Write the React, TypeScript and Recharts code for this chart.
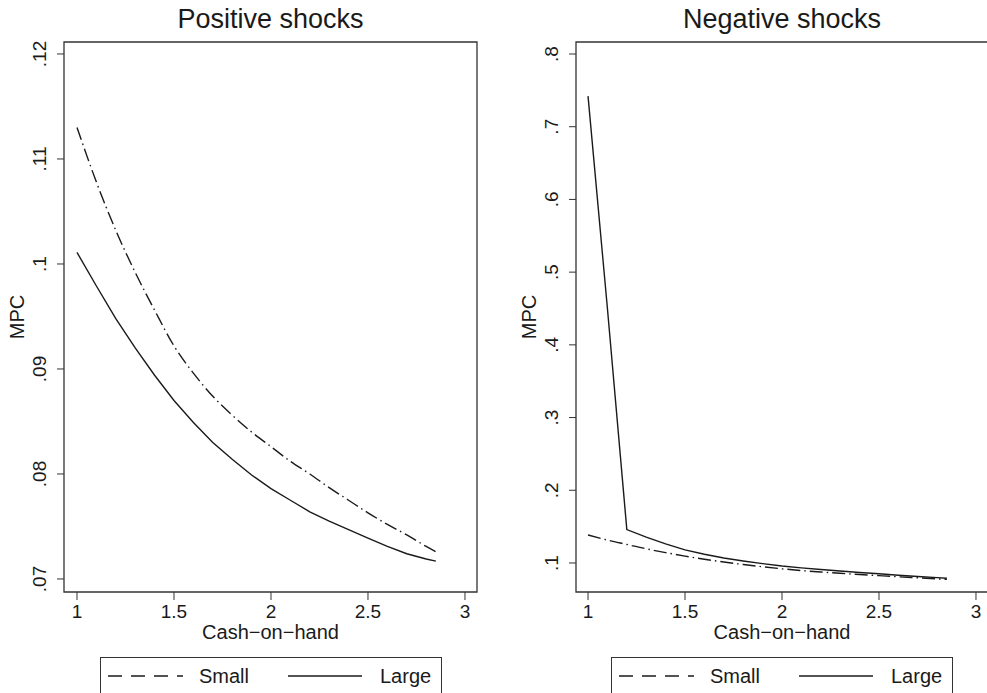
import { LineChart, Line, XAxis, YAxis, ReferenceArea, Legend } from 'recharts';

// cash-on-hand grid + MPC values
const xTicks = [1, 1.5, 2, 2.5, 3];

const posX = [1.0, 1.1, 1.2, 1.3, 1.4, 1.5, 1.6, 1.7, 1.8, 1.9, 2.0, 2.1, 2.2, 2.3, 2.4, 2.5, 2.6, 2.7, 2.8, 2.85];
const posSmall = [0.113, 0.1078, 0.1032, 0.0992, 0.0956, 0.0922, 0.0896, 0.0874, 0.0856, 0.084, 0.0826, 0.0812, 0.08, 0.0787, 0.0775, 0.0763, 0.0752, 0.0742, 0.0731, 0.0726];
const posLarge = [0.1011, 0.0979, 0.0948, 0.092, 0.0894, 0.087, 0.0849, 0.083, 0.0814, 0.0799, 0.0786, 0.0775, 0.0764, 0.0755, 0.0747, 0.0739, 0.0731, 0.0724, 0.0719, 0.0717];
const posTicks = [0.07, 0.08, 0.09, 0.1, 0.11, 0.12];

const negX = [1.0, 1.1, 1.2, 1.3, 1.4, 1.5, 1.6, 1.7, 1.8, 1.9, 2.0, 2.1, 2.2, 2.3, 2.4, 2.5, 2.6, 2.7, 2.8, 2.85];
const negSmall = [0.1385, 0.1315, 0.1255, 0.1195, 0.1143, 0.1095, 0.1052, 0.1013, 0.098, 0.0948, 0.092, 0.0896, 0.0876, 0.0858, 0.0842, 0.0826, 0.081, 0.0796, 0.0782, 0.0775];
const negLarge = [0.742, 0.45, 0.146, 0.1355, 0.1262, 0.118, 0.112, 0.1068, 0.1028, 0.0992, 0.0958, 0.0933, 0.091, 0.089, 0.087, 0.0852, 0.0832, 0.0815, 0.0798, 0.079];
const negTicks = [0.1, 0.2, 0.3, 0.4, 0.5, 0.6, 0.7, 0.8];

const INK = '#1a1a1a';

const fmtPos = (v: number) => v.toFixed(2).replace(/^0/, '').replace(/0$/, '');
const fmtNeg = (v: number) => v.toFixed(1).replace(/^0/, '');

function YTick({ x, y, payload, fmt }: any) {
  return (
    <text x={x} y={y} transform={`rotate(-90 ${x} ${y})`} textAnchor="middle" fontSize={19} fill={INK}>
      {fmt(payload.value)}
    </text>
  );
}

function MpcLabel({ viewBox }: any) {
  const x = viewBox.x + 10;
  const y = viewBox.y + viewBox.height / 2;
  return (
    <text x={x} y={y} transform={`rotate(-90 ${x} ${y})`} textAnchor="middle" fontSize={20} fill={INK}>
      MPC
    </text>
  );
}

function LegendBox() {
  return (
    <div style={{ width: 342, height: 50, border: '1px solid #333', boxSizing: 'border-box', position: 'relative', background: '#fff' }}>
      <svg width={340} height={48} style={{ position: 'absolute', left: 0, top: 0 }}>
        <line x1={7} x2={82} y1={18} y2={18} stroke={INK} strokeWidth={1.4} strokeDasharray="14 9" />
        <text x={98} y={25} fontSize={20} fill={INK}>Small</text>
        <line x1={187} x2={261} y1={18} y2={18} stroke={INK} strokeWidth={1.4} />
        <text x={279} y={25} fontSize={20} fill={INK}>Large</text>
      </svg>
    </div>
  );
}

interface PanelProps {
  title: string;
  left: number;
  width: number;
  margin: { top: number; right: number; bottom: number; left: number };
  xs: number[];
  small: number[];
  large: number[];
  xDomain: [number, number];
  yDomain: [number, number];
  yTicks: number[];
  fmt: (v: number) => string;
  legendLeft: number;
}

function Panel({ title, left, width, margin, xs, small, large, xDomain, yDomain, yTicks, fmt, legendLeft }: PanelProps) {
  const data = xs.map((x, i) => ({ x, small: small[i], large: large[i] }));
  const plotLeft = margin.left + 50;
  const plotRight = width - margin.right;
  return (
    <div style={{ position: 'absolute', left, top: 0, width, height: 693 }}>
      <div style={{ position: 'absolute', left: plotLeft, width: plotRight - plotLeft, top: 6, textAlign: 'center', fontSize: 27, lineHeight: '27px', color: INK }}>
        {title}
      </div>
      <LineChart width={width} height={693} data={data} margin={margin}>
        <XAxis
          type="number"
          dataKey="x"
          domain={xDomain}
          ticks={xTicks}
          allowDataOverflow
          height={50}
          axisLine={false}
          tickSize={8}
          tickMargin={5}
          tickLine={{ stroke: '#333' }}
          tick={{ fontSize: 19, fill: INK }}
          label={{ value: 'Cash−on−hand', position: 'insideBottom', offset: 3, fontSize: 20, fill: INK }}
        />
        <YAxis
          type="number"
          domain={yDomain}
          ticks={yTicks}
          allowDataOverflow
          width={50}
          axisLine={false}
          tickSize={7}
          tickMargin={11}
          tickLine={{ stroke: '#333' }}
          tick={(p: any) => <YTick {...p} fmt={fmt} />}
          label={(p: any) => <MpcLabel {...p} />}
        />
        <ReferenceArea x1={xDomain[0]} x2={xDomain[1]} y1={yDomain[0]} y2={yDomain[1]} fill="none" fillOpacity={0} stroke="#333" strokeWidth={1.3} />
        <Line type="monotone" dataKey="small" name="Small" stroke={INK} strokeWidth={1.4} strokeDasharray="13 4 1.5 4" dot={false} isAnimationActive={false} />
        <Line type="linear" dataKey="large" name="Large" stroke={INK} strokeWidth={1.4} dot={false} isAnimationActive={false} />
        <Legend
          verticalAlign="middle"
          align="center"
          layout="horizontal"
          wrapperStyle={{ left: legendLeft, top: 657, width: 342, height: 50 }}
          content={() => <LegendBox />}
        />
      </LineChart>
    </div>
  );
}

export default function App() {
  return (
    <div style={{ position: 'absolute', left: 0, top: 0, width: 987, height: 693, overflow: 'hidden', background: '#fff', fontFamily: '"Liberation Sans", Arial, sans-serif' }}>
      <Panel
        title="Positive shocks"
        left={0}
        width={490}
        margin={{ top: 42, right: 13, bottom: 51, left: 14 }}
        xs={posX}
        small={posSmall}
        large={posLarge}
        xDomain={[0.933, 3.062]}
        yDomain={[0.06876, 0.12114]}
        yTicks={posTicks}
        fmt={fmtPos}
        legendLeft={100}
      />
      <Panel
        title="Negative shocks"
        left={490}
        width={510}
        margin={{ top: 42, right: 12, bottom: 51, left: 36 }}
        xs={negX}
        small={negSmall}
        large={negLarge}
        xDomain={[0.938, 3.062]}
        yDomain={[0.0601, 0.8165]}
        yTicks={negTicks}
        fmt={fmtNeg}
        legendLeft={121}
      />
    </div>
  );
}
